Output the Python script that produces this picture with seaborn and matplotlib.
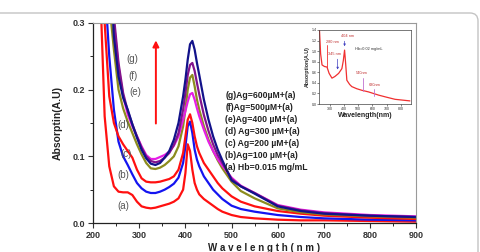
import matplotlib
matplotlib.use("Agg")
import matplotlib.pyplot as plt
from matplotlib.patches import FancyBboxPatch
from matplotlib.transforms import IdentityTransform
from matplotlib.ticker import MultipleLocator
import pandas as pd
import seaborn as sns

# wavelength grid (nm) shared by all main curves
wavelength = [200, 215, 225, 235, 245, 255, 265, 275, 285, 295, 305, 315, 325, 335, 345,
              355, 365, 375, 385, 395, 400, 405, 410, 415, 420, 425, 430, 440, 450, 460,
              470, 480, 500, 520, 550, 600, 650, 700, 800, 900]

abs_a = [0.60, 0.36, 0.16, 0.085, 0.055, 0.047, 0.046, 0.046, 0.042, 0.032, 0.025, 0.023, 0.022, 0.023, 0.025,
         0.027, 0.029, 0.032, 0.037, 0.05, 0.075, 0.118, 0.108, 0.08, 0.06, 0.05, 0.043, 0.036, 0.031, 0.026,
         0.021, 0.017, 0.012, 0.009, 0.007, 0.005, 0.004, 0.004, 0.003, 0.002]
abs_b = [0.9, 0.55, 0.36, 0.25, 0.17, 0.122, 0.1, 0.087, 0.073, 0.06, 0.052, 0.047, 0.045, 0.045, 0.047,
         0.05, 0.054, 0.059, 0.068, 0.09, 0.115, 0.145, 0.152, 0.135, 0.11, 0.095, 0.085, 0.07, 0.06, 0.05,
         0.043, 0.036, 0.026, 0.021, 0.017, 0.012, 0.009, 0.007, 0.005, 0.004]
abs_c = [0.8, 0.48, 0.3, 0.19, 0.15, 0.13, 0.118, 0.108, 0.098, 0.08, 0.067, 0.062, 0.061, 0.061, 0.062,
         0.064, 0.066, 0.07, 0.08, 0.105, 0.13, 0.155, 0.163, 0.15, 0.13, 0.115, 0.105, 0.09, 0.08, 0.07,
         0.06, 0.052, 0.04, 0.032, 0.025, 0.018, 0.014, 0.011, 0.008, 0.006]
abs_d = [1.0, 0.65, 0.45, 0.33, 0.26, 0.2, 0.172, 0.152, 0.135, 0.118, 0.103, 0.09, 0.082, 0.081, 0.083,
         0.087, 0.093, 0.1, 0.115, 0.145, 0.17, 0.2, 0.218, 0.222, 0.205, 0.185, 0.17, 0.145, 0.125, 0.108,
         0.094, 0.082, 0.062, 0.048, 0.037, 0.022, 0.016, 0.013, 0.01, 0.008]
abs_e = [1.2, 0.8, 0.55, 0.4, 0.3, 0.235, 0.19, 0.163, 0.145, 0.13, 0.115, 0.102, 0.096, 0.096, 0.099,
         0.102, 0.107, 0.116, 0.13, 0.155, 0.168, 0.182, 0.193, 0.195, 0.185, 0.172, 0.16, 0.14, 0.122, 0.108,
         0.096, 0.086, 0.068, 0.056, 0.045, 0.027, 0.02, 0.016, 0.012, 0.01]
abs_f = [1.3, 0.85, 0.6, 0.42, 0.31, 0.24, 0.195, 0.168, 0.148, 0.13, 0.113, 0.1, 0.093, 0.091, 0.093,
         0.098, 0.105, 0.117, 0.135, 0.17, 0.195, 0.222, 0.237, 0.24, 0.228, 0.21, 0.193, 0.162, 0.138, 0.118,
         0.102, 0.09, 0.066, 0.055, 0.045, 0.026, 0.019, 0.015, 0.011, 0.009]
abs_g = [1.3, 0.9, 0.62, 0.42, 0.28, 0.22, 0.188, 0.17, 0.148, 0.128, 0.11, 0.097, 0.089, 0.087, 0.09,
         0.098, 0.108, 0.125, 0.15, 0.19, 0.215, 0.245, 0.268, 0.273, 0.26, 0.24, 0.222, 0.185, 0.155, 0.13,
         0.11, 0.094, 0.064, 0.055, 0.044, 0.025, 0.018, 0.014, 0.011, 0.009]

samples = ["a", "b", "c", "d", "e", "f", "g"]
colors = {"a": "#ff1010", "b": "#1414f0", "c": "#ff1010", "d": "#8c8c1e",
          "e": "#e61ee6", "f": "#82148c", "g": "#12128a"}
legend_lines = ["(g)Ag=600\u00b5M+(a)", "(f)Ag=500\u00b5M+(a)", "(e)Ag=400 \u00b5M+(a)",
                "(d) Ag=300 \u00b5M+(a)", "(c) Ag=200 \u00b5M+(a)", "(b)Ag=100 \u00b5M+(a)",
                "(a) Hb=0.015 mg/mL"]

# inset: Hb 0.02 mg/mL reference spectrum
inset_wl = [226, 235, 245, 262, 280, 295, 315, 335, 362, 385, 395, 404, 412, 420,
            440, 455, 490, 526, 573, 643, 700, 760, 865]
inset_abs = [1.45, 0.95, 0.74, 0.71, 0.70, 0.58, 0.49, 0.52, 0.58, 0.67, 0.82, 1.02, 0.75, 0.45,
             0.37, 0.33, 0.29, 0.26, 0.23, 0.17, 0.13, 0.09, 0.06]

rows = []
for s, vals in zip(samples, [abs_a, abs_b, abs_c, abs_d, abs_e, abs_f, abs_g]):
    for w, v in zip(wavelength, vals):
        rows.append({"wavelength": w, "absorbance": v, "sample": s})
df = pd.DataFrame(rows)
inset_df = pd.DataFrame({"wavelength": inset_wl, "absorbance": inset_abs})

sns.set_style("ticks")
plt.rcParams["font.family"] = ["Liberation Sans", "DejaVu Sans"]

fig = plt.figure(figsize=(4.8, 2.52), dpi=100)
ax = fig.add_axes([0.194, 0.115, 0.673, 0.794])

sns.lineplot(data=df, x="wavelength", y="absorbance", hue="sample", palette=colors,
             hue_order=samples, linewidth=1.6, legend=False, ax=ax, sort=True)

ax.set_xlim(200, 900)
ax.set_ylim(0, 0.3)
ax.xaxis.set_major_locator(MultipleLocator(100))
ax.xaxis.set_minor_locator(MultipleLocator(50))
ax.yaxis.set_major_locator(MultipleLocator(0.1))
ax.yaxis.set_minor_locator(MultipleLocator(0.05))
ax.tick_params(which="major", length=3.5, width=0.8, labelsize=6.5, colors="#333333", pad=2)
ax.tick_params(which="minor", length=2, width=0.7)
for lab in ax.get_xticklabels() + ax.get_yticklabels():
    lab.set_fontweight("bold")
for side in ["left", "bottom"]:
    ax.spines[side].set_color("#222222")
    ax.spines[side].set_linewidth(0.9)
for side in ["top", "right"]:
    ax.spines[side].set_visible(True)
    ax.spines[side].set_color("#9a9a9a")
    ax.spines[side].set_linewidth(0.8)

ax.set_xlabel("W a v e l e n g t h ( n m )", fontsize=7, fontweight="bold", color="#222222", labelpad=1)
ax.xaxis.set_label_coords(0.53, -0.1)
ax.set_ylabel("Absorptin(A.U)", fontsize=7.5, fontweight="bold", color="#222222", labelpad=7)

# curve labels
curve_labels = [("(g)", 285, 0.246), ("(f)", 287, 0.221), ("(e)", 292, 0.196), ("(d)", 266, 0.147),
                ("(c)", 271, 0.103), ("(b)", 266, 0.072), ("(a)", 266, 0.025)]
for txt, x, y in curve_labels:
    ax.text(x, y, txt, fontsize=7, color="#555555", ha="center", va="center")

# red arrow showing increasing Ag
ax.annotate("", xy=(336, 0.278), xytext=(336, 0.145),
            arrowprops=dict(arrowstyle="-|>", color="#ff1010", lw=1.4, mutation_scale=9))

for i, line in enumerate(legend_lines):
    ax.text(0.409, 0.635 - i * 0.06, line, transform=ax.transAxes, fontsize=6.2,
            fontweight="bold", color="#222222", va="center", ha="left")

# inset
axin = fig.add_axes([0.665, 0.587, 0.192, 0.294])
sns.lineplot(data=inset_df, x="wavelength", y="absorbance", color="#f03030", linewidth=0.9, ax=axin)
axin.set_xlim(225, 875)
axin.set_ylim(0, 1.4)
axin.xaxis.set_major_locator(MultipleLocator(100))
axin.yaxis.set_major_locator(MultipleLocator(0.2))
axin.tick_params(length=1.2, width=0.4, labelsize=2.5, pad=0.8)
for sp in axin.spines.values():
    sp.set_linewidth(0.5)
    sp.set_color("#444444")
axin.set_xlabel("Wavelength(nm)", fontsize=5, fontweight="bold", labelpad=1)
axin.set_ylabel("Absorption(A.U)", fontsize=3.8, fontweight="bold", labelpad=1)
axin.plot([280, 280], [0.70, 1.12], color="#f03030", lw=0.6)
axin.text(272, 1.17, "280 nm", fontsize=2.8, color="#c03030", ha="left", va="center")
axin.annotate("", xy=(355, 0.60), xytext=(355, 0.90),
              arrowprops=dict(arrowstyle="-|>", color="#4040c0", lw=0.5, mutation_scale=3))
axin.text(330, 0.95, "345 nm", fontsize=2.8, color="#c03030", ha="center", va="center")
axin.annotate("", xy=(404, 1.04), xytext=(404, 1.24),
              arrowprops=dict(arrowstyle="-|>", color="#4040c0", lw=0.5, mutation_scale=3))
axin.text(425, 1.29, "404 nm", fontsize=2.8, color="#c03030", ha="center", va="center")
axin.text(572, 1.04, "Hb=0.02 mg/mL", fontsize=2.8, color="#333333", ha="center", va="center")
axin.plot([537, 537], [0.25, 0.49], color="#c070d0", lw=0.6)
axin.text(526, 0.59, "540nm", fontsize=2.8, color="#c03030", ha="center", va="center")
axin.plot([614, 614], [0.15, 0.28], color="#c070d0", lw=0.6)
axin.text(619, 0.36, "630nm", fontsize=2.8, color="#c03030", ha="center", va="center")

# light rounded frame around the figure
frame = FancyBboxPatch((-20, -20), 498, 259, boxstyle="round,pad=0,rounding_size=8",
                       transform=IdentityTransform(), facecolor="none",
                       edgecolor="#c4c4c4", linewidth=1.0, clip_on=False)
fig.patches.append(frame)

fig.savefig("out.png", dpi=100)
